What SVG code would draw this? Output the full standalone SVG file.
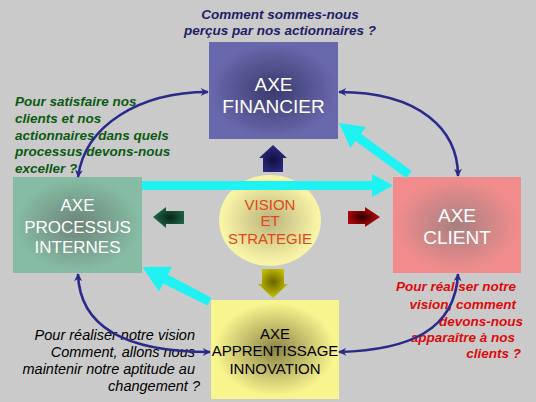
<svg xmlns="http://www.w3.org/2000/svg" width="536" height="402" viewBox="0 0 536 402">
<defs>
<radialGradient id="gFin" cx="50%" cy="50%" r="65%"><stop offset="0" stop-color="#3a3a6e"/><stop offset="0.75" stop-color="#6868ac"/></radialGradient>
<radialGradient id="gPro" cx="50%" cy="50%" r="65%"><stop offset="0" stop-color="#6c8478"/><stop offset="0.75" stop-color="#86bca4"/></radialGradient>
<radialGradient id="gCli" cx="50%" cy="50%" r="65%"><stop offset="0" stop-color="#a88080"/><stop offset="0.75" stop-color="#f28c8c"/></radialGradient>
<radialGradient id="gApp" cx="50%" cy="50%" r="65%"><stop offset="0" stop-color="#8c8446"/><stop offset="0.72" stop-color="#f8f48e"/></radialGradient>
<radialGradient id="gVis" cx="50%" cy="50%" r="55%"><stop offset="0" stop-color="#bcb47e"/><stop offset="0.85" stop-color="#f8f4a6"/></radialGradient>
<radialGradient id="gUp" cx="50%" cy="55%" r="55%"><stop offset="0" stop-color="#101040"/><stop offset="1" stop-color="#2c2c84"/></radialGradient>
<radialGradient id="gDn" cx="50%" cy="45%" r="55%"><stop offset="0" stop-color="#6a6400"/><stop offset="1" stop-color="#cac400"/></radialGradient>
<radialGradient id="gLf" cx="55%" cy="50%" r="55%"><stop offset="0" stop-color="#0a2418"/><stop offset="1" stop-color="#1e6a48"/></radialGradient>
<radialGradient id="gRt" cx="45%" cy="50%" r="55%"><stop offset="0" stop-color="#300000"/><stop offset="1" stop-color="#c00808"/></radialGradient>
<marker id="ah" viewBox="0 0 10 10" refX="9" refY="5" markerWidth="9" markerHeight="8" markerUnits="userSpaceOnUse" orient="auto-start-reverse">
<path d="M0,0 L10,5 L0,10 L3,5 Z" fill="#2a2a8a"/>
</marker>
<style>
.bl{fill:none;stroke:#2a2a8a;stroke-width:2.6;marker-start:url(#ah);marker-end:url(#ah)}
.cy{fill:#1ef2f2}
.q{font-family:"Liberation Sans",Arial,sans-serif;font-style:italic;font-weight:bold;font-size:13.5px}
.b{font-family:"Liberation Sans",Arial,sans-serif;text-anchor:middle}
</style>
</defs>
<rect width="536" height="402" fill="#cacaca"/>

<g id="financier">
<rect x="209" y="42" width="129" height="97" fill="url(#gFin)"/>
<text class="b" x="273.5" y="91" font-size="19" fill="#ffffff">AXE</text>
<text class="b" x="273.5" y="113" font-size="19" fill="#ffffff">FINANCIER</text>
</g>
<g id="processus">
<rect x="13" y="177" width="129" height="96" fill="url(#gPro)"/>
<text class="b" x="77.5" y="211" font-size="17" fill="#ffffff">AXE</text>
<text class="b" x="77.5" y="232.5" font-size="17" fill="#ffffff">PROCESSUS</text>
<text class="b" x="77.5" y="253" font-size="17" fill="#ffffff">INTERNES</text>
</g>
<g id="client">
<rect x="393" y="177" width="128" height="96" fill="url(#gCli)"/>
<text class="b" x="457" y="222" font-size="19" fill="#ffffff">AXE</text>
<text class="b" x="457" y="244" font-size="19" fill="#ffffff">CLIENT</text>
</g>
<g id="apprentissage">
<rect x="211" y="300" width="128" height="99" fill="url(#gApp)"/>
<text class="b" x="275" y="338.5" font-size="15" fill="#000000">AXE</text>
<text class="b" x="275" y="355.5" font-size="15" fill="#000000">APPRENTISSAGE</text>
<text class="b" x="275" y="373.5" font-size="15" fill="#000000">INNOVATION</text>
</g>
<g id="vision">
<ellipse cx="270" cy="220.5" rx="51" ry="45.5" fill="url(#gVis)"/>
<text class="b" x="270" y="209.5" font-size="15" fill="#e04818">VISION</text>
<text class="b" x="270" y="226" font-size="15" fill="#e04818">ET</text>
<text class="b" x="270" y="243.5" font-size="15" fill="#e04818">STRATEGIE</text>
</g>

<g id="q-financier" class="q" fill="#1e1e66" text-anchor="middle">
<text x="280" y="19">Comment sommes-nous</text>
<text x="280" y="35">perçus par nos actionnaires ?</text>
</g>
<g id="q-processus" class="q" fill="#0b5a12">
<text x="15" y="106">Pour satisfaire nos</text>
<text x="15" y="122.5">clients et nos</text>
<text x="15" y="139.5">actionnaires dans quels</text>
<text x="15" y="156">processus devons-nous</text>
<text x="15" y="172.5">exceller  ?</text>
</g>
<g id="q-client" class="q" fill="#dd0a0a" text-anchor="end">
<text x="516" y="291">Pour réaliser notre</text>
<text x="516" y="309">vision, comment</text>
<text x="523" y="325.5">devons-nous</text>
<text x="515" y="342">apparaître à nos</text>
<text x="521" y="358">clients ?</text>
</g>
<g id="q-apprentissage" font-family="Liberation Sans, Arial, sans-serif" font-style="italic" font-size="14.5" fill="#000000" text-anchor="end">
<text x="195" y="340">Pour réaliser notre vision</text>
<text x="195" y="357">Comment, allons nous</text>
<text x="195" y="374">maintenir notre aptitude au</text>
<text x="200" y="391">changement ?</text>
</g>

<g id="connectors">
<polygon class="cy" points="142,181 372,181 372,174 393,185.5 372,197 372,190 142,190"/>
<polygon class="cy" points="339,123 366,127 360.9,133.8 411.7,170.9 406.3,178.1 355.5,141 350.4,147.8"/>
<polygon class="cy" points="142.5,267 172,266.7 167.8,274.7 211.5,297.8 207.5,305.6 163.2,283.5 159,291.5"/>
<path class="bl" d="M78,177 C85,125 140,92 208,92"/>
<path class="bl" d="M339,92 C420,92 458,130 458,176"/>
<path class="bl" d="M78,274 C80,335 140,352 210,352"/>
<path class="bl" d="M458,274 C455,330 410,350 339,352"/>
<polygon fill="url(#gUp)" points="273,145 287,158 283,158 283,172 263,172 263,158 259,158"/>
<polygon fill="url(#gDn)" points="262,269 284,269 284,284 288,284 273,298 258,284 262,284"/>
<polygon fill="url(#gLf)" points="153,217 166,207 166,211 184,211 184,224 166,224 166,228"/>
<polygon fill="url(#gRt)" points="348,211 365,211 365,207 380,217 365,227 365,224 348,224"/>
</g>
</svg>
